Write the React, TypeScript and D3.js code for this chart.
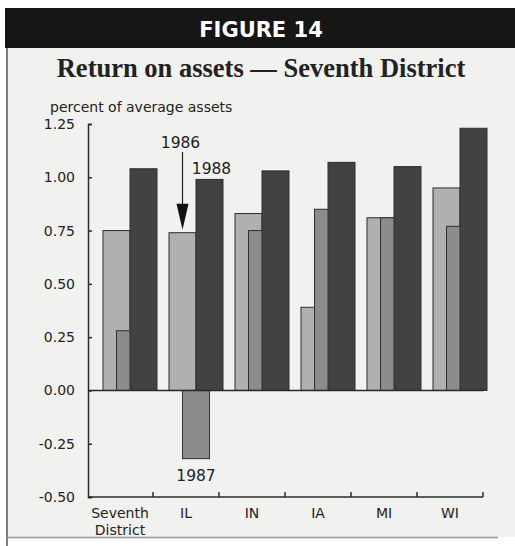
import { useEffect, useRef } from 'react'
import * as d3 from 'd3'

// ─── Data ────────────────────────────────────────────────────────────────────

const categories = ['Seventh District', 'IL', 'IN', 'IA', 'MI', 'WI']
const years = ['1986', '1987', '1988']
const roa1986 = [0.75, 0.74, 0.83, 0.39, 0.81, 0.95]
const roa1987 = [0.28, -0.32, 0.75, 0.85, 0.81, 0.77]
const roa1988 = [1.04, 0.99, 1.03, 1.07, 1.05, 1.23]
const yTicks = [1.25, 1.0, 0.75, 0.5, 0.25, 0, -0.25, -0.5]

const seriesByYear: Record<string, number[]> = {
  '1986': roa1986,
  '1987': roa1987,
  '1988': roa1988,
}

// ─── Theme ───────────────────────────────────────────────────────────────────

const colors = {
  page: '#ffffff',
  panel: '#f1f1ef',
  header: '#161616',
  ink: '#222222',
  axis: '#2a2a2a',
  frame: '#9a9a9a',
  year: { '1986': '#b0b0b0', '1987': '#8c8c8c', '1988': '#424242' } as Record<string, string>,
}
const sans = '"DejaVu Sans", sans-serif'
const serif = '"Liberation Serif", "Times New Roman", serif'

const W = 515
const H = 546

export default function App() {
  const ref = useRef<SVGSVGElement>(null)

  useEffect(() => {
    if (!ref.current) return
    const svg = d3.select(ref.current)
    svg.selectAll('*').remove()

    // page + framed panel
    svg.append('rect').attr('width', W).attr('height', H).attr('fill', colors.page)
    svg.append('rect').attr('x', 7).attr('y', 46).attr('width', W - 7).attr('height', 491).attr('fill', colors.panel)
    svg.append('line').attr('x1', 7).attr('x2', 7).attr('y1', 8).attr('y2', H).attr('stroke', '#555').attr('stroke-width', 1.5)
    svg.append('line').attr('x1', 7).attr('x2', 498).attr('y1', 537.5).attr('y2', 537.5).attr('stroke', colors.frame).attr('stroke-width', 1.5)

    // header band
    svg.append('rect').attr('x', 5).attr('y', 8).attr('width', W - 5).attr('height', 40).attr('fill', colors.header)
    svg.append('text')
      .attr('x', 261).attr('y', 37)
      .attr('text-anchor', 'middle')
      .attr('font-family', sans).attr('font-weight', 'bold').attr('font-size', 21)
      .attr('fill', '#fff')
      .text('FIGURE 14')

    svg.append('text')
      .attr('x', 261).attr('y', 77)
      .attr('text-anchor', 'middle')
      .attr('font-family', serif).attr('font-weight', 'bold').attr('font-size', 26.5)
      .attr('fill', colors.ink)
      .text('Return on assets \u2014 Seventh District')

    svg.append('text')
      .attr('x', 50).attr('y', 112)
      .attr('font-family', sans).attr('font-size', 14)
      .attr('fill', colors.ink)
      .text('percent of average assets')

    // scales
    const plot = { left: 88, right: 483, top: 124, bottom: 497 }
    const y = d3.scaleLinear().domain([-0.5, 1.25]).range([plot.bottom, plot.top])
    const x0 = d3.scaleBand().domain(categories).range([plot.left - 1, plot.right]).padding(0)
    const x1 = d3.scalePoint().domain(years).range([16, 43])
    const barW = 27

    // bars, drawn 1986 → 1988 so later years sit on top
    years.forEach((yr) => {
      const vals = seriesByYear[yr]
      svg.append('g')
        .selectAll('rect')
        .data(categories.map((c, i) => ({ c, v: vals[i] })))
        .join('rect')
        .attr('x', (d) => x0(d.c)! + x1(yr)!)
        .attr('y', (d) => y(Math.max(0, d.v)))
        .attr('width', barW)
        .attr('height', (d) => Math.abs(y(d.v) - y(0)))
        .attr('fill', colors.year[yr])
        .attr('stroke', '#2e2e2e')
        .attr('stroke-width', 1)
    })

    // zero line
    svg.append('line')
      .attr('x1', plot.left).attr('x2', plot.right)
      .attr('y1', y(0)).attr('y2', y(0))
      .attr('stroke', colors.axis).attr('stroke-width', 1.5)

    // y axis (ticks point inward)
    svg.append('g')
      .attr('transform', `translate(${plot.left},0)`)
      .call(d3.axisRight(y).tickValues(yTicks).tickSize(4).tickFormat(() => ''))
      .call((sel) => sel.select('.domain').attr('stroke', colors.axis).attr('stroke-width', 1.5))
      .call((sel) => sel.selectAll('line').attr('stroke', colors.axis).attr('stroke-width', 1.5))

    svg.append('g')
      .selectAll('text')
      .data(yTicks)
      .join('text')
      .attr('x', 75)
      .attr('y', (d) => y(d))
      .attr('dy', '0.36em')
      .attr('text-anchor', 'end')
      .attr('font-family', sans).attr('font-size', 14)
      .attr('fill', colors.ink)
      .text((d) => d.toFixed(2))

    // x axis: boundaries between groups, ticks pointing up
    const bounds = categories.map((c) => x0(c)! + x0.bandwidth())
    svg.append('line')
      .attr('x1', plot.left).attr('x2', plot.right)
      .attr('y1', plot.bottom).attr('y2', plot.bottom)
      .attr('stroke', colors.axis).attr('stroke-width', 1.5)
    svg.append('g')
      .selectAll('line')
      .data(bounds)
      .join('line')
      .attr('x1', (d) => d).attr('x2', (d) => d)
      .attr('y1', plot.bottom).attr('y2', plot.bottom - 5)
      .attr('stroke', colors.axis).attr('stroke-width', 1.5)

    svg.append('g')
      .selectAll('text')
      .data(categories)
      .join('text')
      .attr('x', (d) => x0(d)! + x0.bandwidth() / 2)
      .attr('y', 518)
      .attr('text-anchor', 'middle')
      .attr('font-family', sans).attr('font-size', 14)
      .attr('fill', colors.ink)
      .each(function (d) {
        const lines = d.split(' ')
        const t = d3.select(this)
        lines.forEach((ln, i) => {
          t.append('tspan')
            .attr('x', x0(d)! + x0.bandwidth() / 2)
            .attr('dy', i === 0 ? 0 : 17)
            .text(ln)
        })
      })

    // year annotations on IL
    const il = 'IL'
    const ilIdx = categories.indexOf(il)
    const ax = x0(il)! + x1('1986')! + barW / 2
    const tipY = y(roa1986[ilIdx]) - 3
    svg.append('line')
      .attr('x1', ax).attr('x2', ax)
      .attr('y1', 152).attr('y2', tipY - 20)
      .attr('stroke', colors.ink).attr('stroke-width', 1.2)
    svg.append('path')
      .attr('d', `M${ax - 6},${tipY - 26}L${ax + 6},${tipY - 26}L${ax},${tipY}Z`)
      .attr('fill', '#111')

    const annot = (txt: string, xx: number, yy: number) =>
      svg.append('text')
        .attr('x', xx).attr('y', yy)
        .attr('text-anchor', 'middle')
        .attr('font-family', sans).attr('font-size', 15.5)
        .attr('fill', colors.ink)
        .text(txt)

    annot('1986', ax - 2, 148)
    annot('1988', x0(il)! + x1('1988')! + barW / 2 + 2, 174)
    annot('1987', x0(il)! + x1('1987')! + barW / 2, y(roa1987[ilIdx]) + 22)
  }, [])

  return (
    <svg
      ref={ref}
      width={W}
      height={H}
      viewBox={`0 0 ${W} ${H}`}
      style={{ position: 'absolute', left: 0, top: 0, display: 'block' }}
    />
  )
}
